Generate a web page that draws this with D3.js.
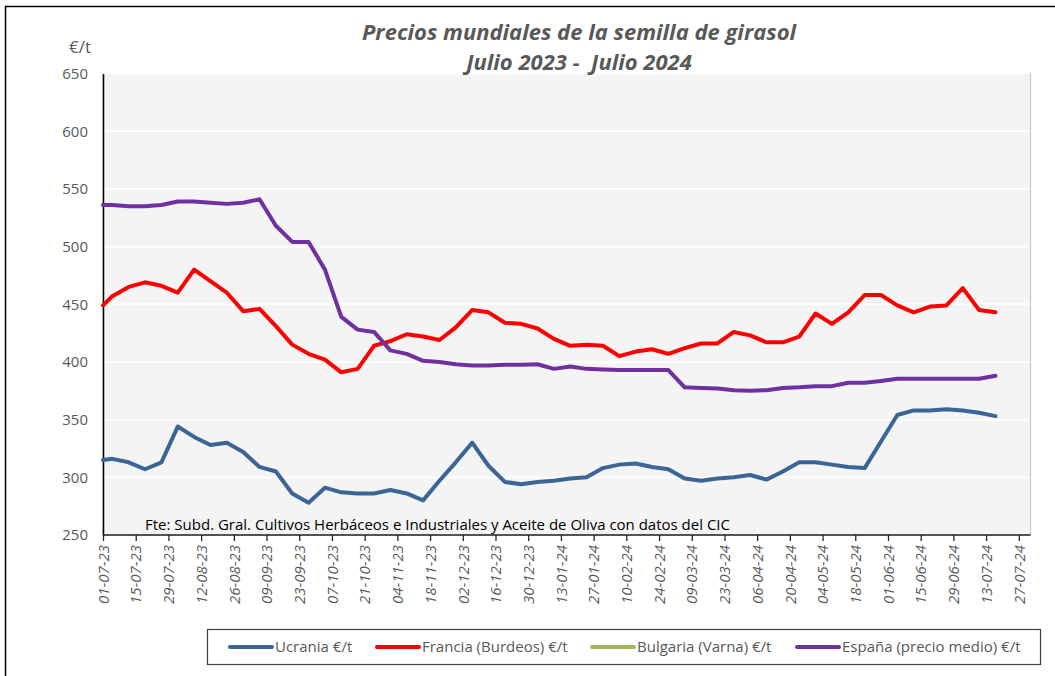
<!DOCTYPE html>
<html lang="es">
<head>
<meta charset="UTF-8">
<title>Precios mundiales de la semilla de girasol</title>
<style>
    body { margin: 0; background: #fff; }
    text { font-family: "Open Sans", "Noto Sans", sans-serif; }
</style>
<script src="https://cdnjs.cloudflare.com/ajax/libs/d3/7.8.5/d3.min.js"></script>
</head>
<body>
<div id="chart"></div>
<script>
// fechas de cotización (semanal)
var fechas = [
    "2023-07-01",
    "2023-07-05", "2023-07-12", "2023-07-19", "2023-07-26", "2023-08-02", "2023-08-09", "2023-08-16",
    "2023-08-23", "2023-08-30", "2023-09-06", "2023-09-13", "2023-09-20", "2023-09-27", "2023-10-04",
    "2023-10-11", "2023-10-18", "2023-10-25", "2023-11-01", "2023-11-08", "2023-11-15", "2023-11-22",
    "2023-11-29", "2023-12-06", "2023-12-13", "2023-12-20", "2023-12-27", "2024-01-03", "2024-01-10",
    "2024-01-17", "2024-01-24", "2024-01-31", "2024-02-07", "2024-02-14", "2024-02-21", "2024-02-28",
    "2024-03-06", "2024-03-13", "2024-03-20", "2024-03-27", "2024-04-03", "2024-04-10", "2024-04-17",
    "2024-04-24", "2024-05-01", "2024-05-08", "2024-05-15", "2024-05-22", "2024-05-29", "2024-06-05",
    "2024-06-12", "2024-06-19", "2024-06-26", "2024-07-03", "2024-07-10", "2024-07-17"
];

var ucrania = [
    315, 316, 313, 307, 313, 344, 335, 328, 330, 322, 309, 305, 286, 278, 291,
    287, 286, 286, 289, 286, 280, 297, 313, 330, 310, 296, 294, 296, 297, 299,
    300, 308, 311, 312, 309, 307, 299, 297, 299, 300, 302, 298, 305, 313, 313,
    311, 309, 308, 331, 354, 358, 358, 359, 358, 356, 353
];

var francia = [
    449, 457, 465, 469, 466, 460, 480, 470, 460, 444, 446, 431, 415, 407, 402,
    391, 394, 414, 418, 424, 422, 419, 430, 445, 443, 434, 433, 429, 420, 414,
    415, 414, 405, 409, 411, 407, 412, 416, 416, 426, 423, 417, 417, 422, 442,
    433, 443, 458, 458, 449, 443, 448, 449, 464, 445, 443
];

var bulgaria = []; // sin datos en el periodo

var espana = [
    536, 536, 535, 535, 536, 539, 539, 538, 537, 538, 541, 518, 504, 504, 480,
    439, 428, 426, 410, 407, 401, 400, 398, 397, 397, 397.5, 397.5, 398, 394, 396,
    394, 393.5, 393, 393, 393, 393, 378, 377.5, 377, 375.5, 375, 375.5, 377.5, 378, 379,
    379, 382, 382, 383.5, 385.5, 385.5, 385.5, 385.5, 385.5, 385.5, 388
];

var yTicks = [250, 300, 350, 400, 450, 500, 550, 600, 650];

var series = [
    { name: "Ucrania €/t", values: ucrania, color: "#3a6596" },
    { name: "Francia (Burdeos) €/t", values: francia, color: "#ff0000" },
    { name: "Bulgaria (Varna) €/t", values: bulgaria, color: "#9bbb59" },
    { name: "España (precio medio) €/t", values: espana, color: "#7030a0" }
];

function dibujar() {
    var width = 1055,
        height = 676,
        pLeft = 103,
        pRight = 1030.5,
        pTop = 73.5,
        pBottom = 535;

    var parse = d3.timeParse("%Y-%m-%d");
    var dates = fechas.map(parse);

    var svg = d3.select("#chart").append("svg")
        .attr("width", width)
        .attr("height", height);

    // marco exterior
    svg.append("rect")
        .attr("x", 5.5)
        .attr("y", 6.5)
        .attr("width", 1100)
        .attr("height", 700)
        .attr("fill", "#fff")
        .attr("stroke", "#000")
        .attr("stroke-width", 1.5);

    var x = d3.scaleTime()
        .domain([parse("2023-07-01"), parse("2024-08-01")])
        .range([pLeft, pRight]);

    var y = d3.scaleLinear()
        .domain([250, 650])
        .range([pBottom, pTop]);

    // área de trazado
    svg.append("rect")
        .attr("x", pLeft)
        .attr("y", pTop)
        .attr("width", pRight - pLeft)
        .attr("height", pBottom - pTop)
        .attr("fill", "#f4f4f4")
        .attr("stroke", "#c8c8c8")
        .attr("stroke-width", 1.2);

    // líneas de división
    svg.append("g")
        .selectAll("line")
        .data(yTicks.slice(1))
        .enter()
        .append("line")
        .attr("x1", pLeft)
        .attr("x2", pRight - 1)
        .attr("y1", function (d) { return y(d); })
        .attr("y2", function (d) { return y(d); })
        .attr("stroke", "#fff")
        .attr("stroke-width", 1.8);

    // eje Y
    var yAxis = svg.append("g")
        .attr("transform", "translate(" + pLeft + ",0)")
        .call(d3.axisLeft(y).tickValues(yTicks).tickSize(0).tickPadding(15));
    yAxis.select(".domain").attr("stroke", "#000").attr("stroke-width", 1.5);
    yAxis.selectAll("text")
        .attr("fill", "#595959")
        .style("font-size", "15px");

    svg.append("text")
        .attr("x", 80)
        .attr("y", 53)
        .attr("text-anchor", "middle")
        .attr("fill", "#595959")
        .style("font-size", "17px")
        .text("€/t");

    // eje X
    var xTickValues = d3.timeDay.every(1).range(parse("2023-07-01"), parse("2024-07-28"))
        .filter(function (d, i) { return i % 14 === 0; });

    var xAxis = svg.append("g")
        .attr("transform", "translate(0," + pBottom + ")")
        .call(d3.axisBottom(x).tickValues(xTickValues).tickSize(6).tickFormat(d3.timeFormat("%d-%m-%y")));
    xAxis.select(".domain")
        .attr("d", "M" + pLeft + ",0H" + pRight)
        .attr("stroke", "#262626")
        .attr("stroke-width", 1.5);
    xAxis.selectAll(".tick line").attr("stroke", "#262626").attr("stroke-width", 1.3);
    xAxis.selectAll("text")
        .attr("fill", "#595959")
        .attr("transform", "rotate(-90)")
        .attr("text-anchor", "end")
        .attr("x", -10)
        .attr("y", 0)
        .attr("dy", "0.35em")
        .style("font-size", "15px")
        .style("font-style", "italic");

    // fuente
    svg.append("text")
        .attr("x", 145)
        .attr("y", 530)
        .attr("fill", "#000")
        .style("font-size", "15px")
        .text("Fte: Subd. Gral. Cultivos Herbáceos e Industriales y Aceite de Oliva con datos del CIC");

    // series
    var line = d3.line()
        .x(function (d) { return x(d.date); })
        .y(function (d) { return y(d.value); });

    series.forEach(function (s) {
        if (!s.values.length) return;
        var pts = s.values.map(function (v, i) { return { date: dates[i], value: v }; });
        svg.append("path")
            .datum(pts)
            .attr("d", line)
            .attr("fill", "none")
            .attr("stroke", s.color)
            .attr("stroke-width", 4)
            .attr("stroke-linejoin", "round")
            .attr("stroke-linecap", "round");
    });

    // título
    var title = svg.append("text")
        .attr("text-anchor", "middle")
        .attr("fill", "#595959")
        .style("font-size", "22px")
        .style("font-weight", 700)
        .style("font-style", "italic");
    title.append("tspan").attr("x", 579).attr("y", 40).text("Precios mundiales de la semilla de girasol");
    title.append("tspan").attr("x", 579).attr("y", 70).style("white-space", "pre").text("Julio 2023 -  Julio 2024");

    // leyenda
    svg.append("rect")
        .attr("x", 207.5)
        .attr("y", 629.5)
        .attr("width", 833)
        .attr("height", 35)
        .attr("fill", "#fff")
        .attr("stroke", "#404040")
        .attr("stroke-width", 1.2);

    var legendX = [230, 377, 592, 797];

    var legend = svg.append("g")
        .selectAll("g")
        .data(series)
        .enter()
        .append("g")
        .attr("transform", function (d, i) { return "translate(" + legendX[i] + ",647)"; });

    legend.append("line")
        .attr("x1", 0)
        .attr("x2", 42)
        .attr("stroke", function (d) { return d.color; })
        .attr("stroke-width", 4)
        .attr("stroke-linecap", "round");

    legend.append("text")
        .attr("x", 45)
        .attr("dy", "0.35em")
        .attr("fill", "#595959")
        .style("font-size", "15px")
        .text(function (d) { return d.name; });
}
dibujar();
</script>
</body>
</html>
